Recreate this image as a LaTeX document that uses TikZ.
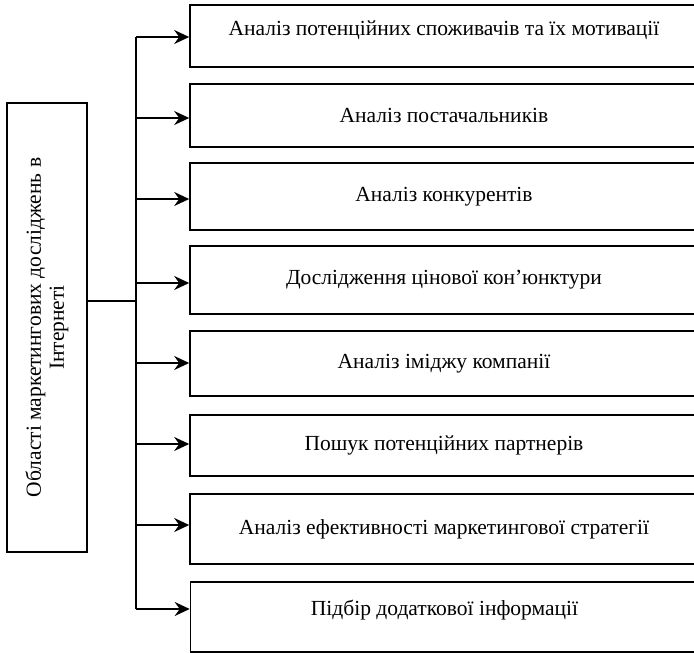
\documentclass[tikz,border=0pt]{standalone}
\usepackage{fontspec}
\setmainfont{Liberation Serif}
\usetikzlibrary{arrows.meta}
\tikzstyle{area} = [draw=black, line width=1.6pt, minimum width=508pt, inner sep=0pt, align=center, font={\fontsize{21.5}{24}\selectfont}]
\tikzstyle{src} = [draw=black, line width=1.6pt, rotate=90, minimum width=449pt, minimum height=80pt, inner sep=0pt, align=center, font={\fontsize{21.5}{23}\selectfont}]
\tikzstyle{arr} = [-{Stealth[length=15pt,width=14pt,inset=5pt]}, line width=1.6pt]
\tikzstyle{wire} = [line width=1.6pt]

\begin{document}
\begin{tikzpicture}[x=1pt, y=-1pt]
    \useasboundingbox (0,0) rectangle (694,653);
    \clip (0,0) rectangle (694,653);
    \node[src](S) at (47,327.5){Області маркетингових досліджень в\\Інтернеті};
    \node[area, minimum height=62pt](b1) at (444,36){Аналіз потенційних споживачів та їх мотивації\\[-15pt]\strut};
    \node[area, minimum height=63pt](b2) at (444,115.5){Аналіз постачальників};
    \node[area, minimum height=67pt](b3) at (444,196.5){Аналіз конкурентів};
    \node[area, minimum height=68pt](b4) at (444,280){Дослідження цінової кон’юнктури};
    \node[area, minimum height=65pt](b5) at (444,363.5){Аналіз іміджу компанії};
    \node[area, minimum height=61pt](b6) at (444,445.5){Пошук потенційних партнерів};
    \node[area, minimum height=70pt](b7) at (444,529){Аналіз ефективності маркетингової стратегії};
    \node[area, minimum height=70pt](b8) at (444.5,617){Підбір додаткової інформації\\[-13pt]\strut};
    \coordinate (trunk) at (136,301);
    \coordinate (t1) at (136,37);
    \coordinate (t2) at (136,118);
    \coordinate (t3) at (136,199);
    \coordinate (t4) at (136,283);
    \coordinate (t5) at (136,363);
    \coordinate (t6) at (136,444);
    \coordinate (t7) at (136,525);
    \coordinate (t8) at (136,609);
    \draw[wire](S.south |- trunk)--(trunk);
    \draw[wire](t1)--(t8);
    \draw[arr](t1)--(t1 -| b1.west);
    \draw[arr](t2)--(t2 -| b2.west);
    \draw[arr](t3)--(t3 -| b3.west);
    \draw[arr](t4)--(t4 -| b4.west);
    \draw[arr](t5)--(t5 -| b5.west);
    \draw[arr](t6)--(t6 -| b6.west);
    \draw[arr](t7)--(t7 -| b7.west);
    \draw[arr](t8)--(t8 -| b8.west);
\end{tikzpicture}
\end{document}
